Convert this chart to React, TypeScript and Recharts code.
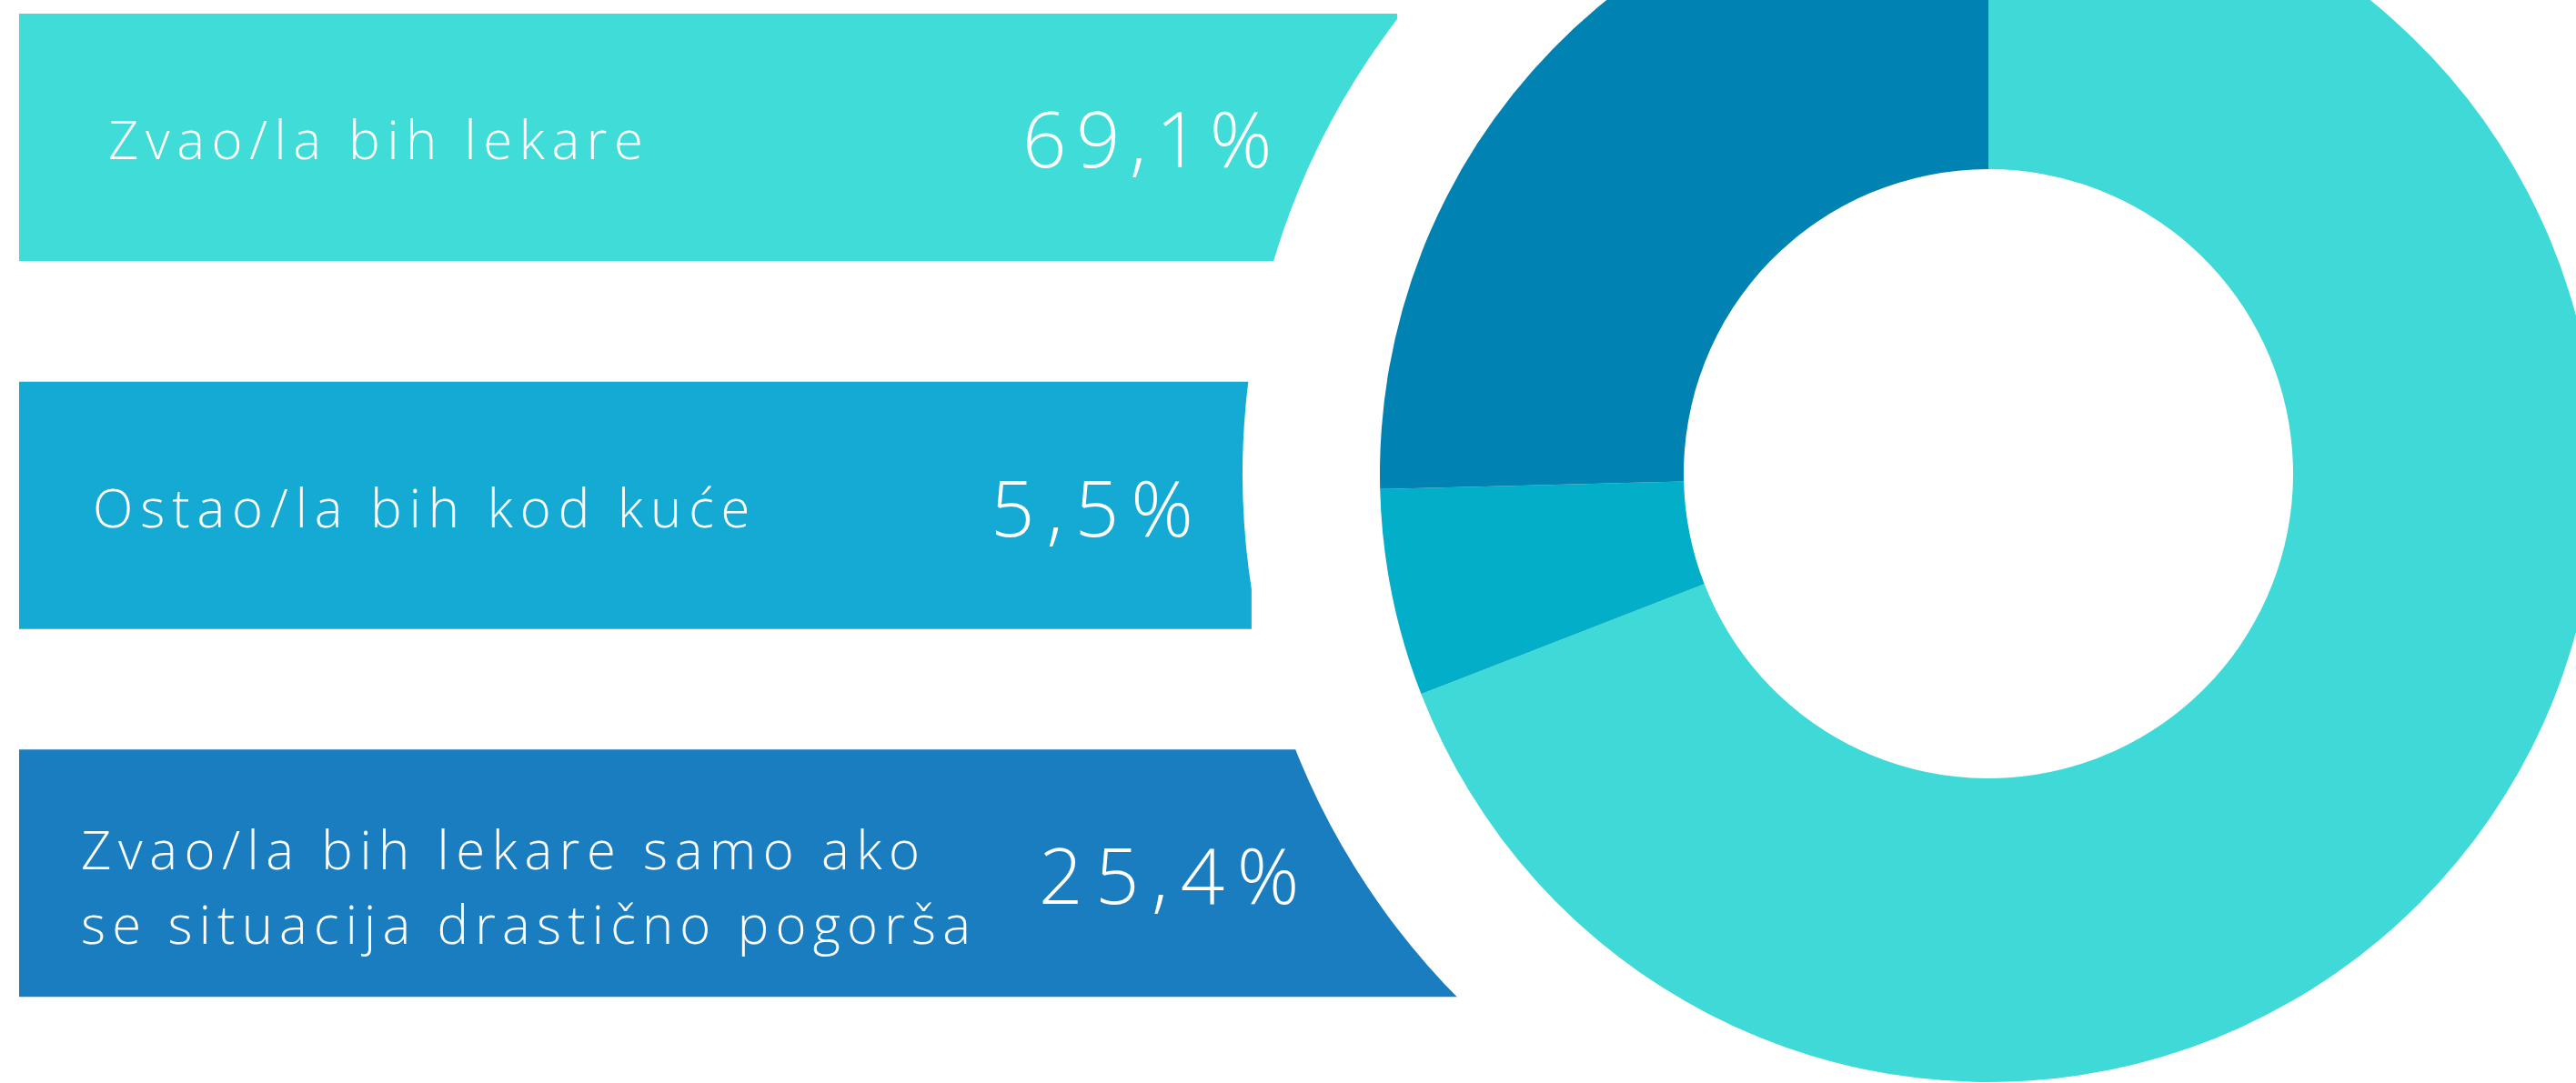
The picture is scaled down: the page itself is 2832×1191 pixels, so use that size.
import React from "react";
import { BarChart, Bar, XAxis, YAxis, LabelList, Cell, PieChart, Pie } from "recharts";

// ---- data ----
const categories = [
  "Zvao/la bih lekare",
  "Ostao/la bih kod kuće",
  "Zvao/la bih lekare samo ako se situacija drastično pogorša",
];
const labelLines = [
  ["Zvao/la bih lekare"],
  ["Ostao/la bih kod kuće"],
  ["Zvao/la bih lekare samo ako", "se situacija drastično pogorša"],
];
const shares = [69.1, 5.5, 25.4];
const shareLabels = ["69,1%", "5,5%", "25,4%"];
// decorative banner length (percent of banner track)
const bannerReach = [53.9, 48.2, 62];

// ---- styles ----
const bannerColors = ["#40DCD8", "#14AAD3", "#1A7DC0"];
const sliceColors = ["#3FDAD7", "#03AEC8", "#0082B3"];
const labelOffsetX = [98, 81, 68];
const labelBaselines = [[24], [24], [-4, 78]];
const labelSpacing = [[7.6], [7.9], [7.6, 7.2]];
const pctOffsetX = [1103, 1068, 1121];
const pctBaseline = [33, 34, 34];
const pctSpacing = [10.5, 13, 13.5];

const W = 2832;
const H = 1191;
const FONT = "'Open Sans', 'Noto Sans', sans-serif";

const bannerRows = categories.map((name, i) => ({ name, reach: bannerReach[i] }));
const pieRows = categories.map((name, i) => ({ name, value: shares[i] }));
const maskRows = [{ name: "mask", value: 1 }];

const renderLabel = (props: any) => {
  const vb = props.viewBox || props;
  const x = vb.x ?? props.x;
  const y = vb.y ?? props.y;
  const height = vb.height ?? props.height;
  const index = props.index ?? 0;
  const cy = y + height / 2;
  return (
    <g>
      {labelLines[index].map((line, k) => (
        <text
          key={k}
          x={x + labelOffsetX[index]}
          y={cy + labelBaselines[index][k]}
          fill="#ffffff"
          fontFamily={FONT}
          fontSize={58}
          fontWeight={300}
          letterSpacing={labelSpacing[index][k]}
        >
          {line}
        </text>
      ))}
      <text
        x={x + pctOffsetX[index]}
        y={cy + pctBaseline[index]}
        fill="#ffffff"
        fontFamily={FONT}
        fontSize={85}
        fontWeight={300}
        letterSpacing={pctSpacing[index]}
      >
        {shareLabels[index]}
      </text>
    </g>
  );
};

export default function App() {
  return (
    <div style={{ position: "absolute", left: 0, top: 0, width: W, height: H, overflow: "hidden", background: "#ffffff" }}>
      <div style={{ position: "absolute", left: 0, top: -51 }}>
        <BarChart
          width={W}
          height={1214}
          data={bannerRows}
          layout="vertical"
          margin={{ top: 0, right: 0, bottom: 0, left: 21 }}
          barCategoryGap={0}
        >
          <XAxis type="number" domain={[0, 100]} hide />
          <YAxis type="category" dataKey="name" hide />
          <Bar dataKey="reach" barSize={272} isAnimationActive={false}>
            {bannerRows.map((r, i) => (
              <Cell key={r.name} fill={bannerColors[i]} />
            ))}
            <LabelList dataKey="reach" content={renderLabel} />
          </Bar>
        </BarChart>
      </div>
      <div style={{ position: "absolute", left: 0, top: 0 }}>
        <PieChart width={W} height={H} margin={{ top: 0, right: 0, bottom: 0, left: 0 }}>
          <Pie
            data={maskRows}
            dataKey="value"
            cx={2186}
            cy={521}
            innerRadius={0}
            outerRadius={820}
            startAngle={0}
            endAngle={360}
            fill="#ffffff"
            stroke="none"
            isAnimationActive={false}
          />
          <Pie
            data={pieRows}
            dataKey="value"
            cx={2186}
            cy={521}
            innerRadius={335}
            outerRadius={669}
            startAngle={90}
            endAngle={-270}
            stroke="none"
            isAnimationActive={false}
          >
            {pieRows.map((r, i) => (
              <Cell key={r.name} fill={sliceColors[i]} />
            ))}
          </Pie>
        </PieChart>
      </div>
    </div>
  );
}
